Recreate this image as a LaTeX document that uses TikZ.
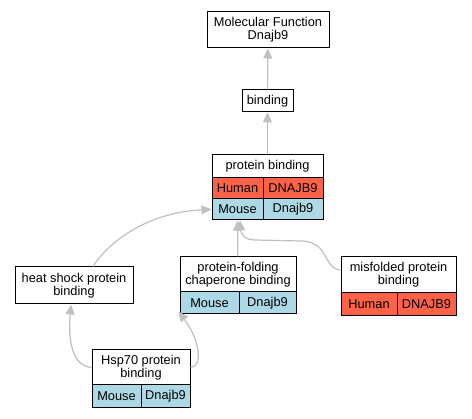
\documentclass[tikz,border=0pt]{standalone}
\usepackage{fontspec}
\setmainfont{Liberation Sans}
\usetikzlibrary{arrows.meta,calc}
\definecolor{humanred}{RGB}{255,99,71}
\definecolor{mouseblue}{RGB}{173,216,230}
\definecolor{edgegray}{RGB}{192,192,192}
\tikzset{
	term/.style={draw=black, line width=1pt, fill=white, inner sep=0pt, align=center, font=\fontsize{12.8}{13}\selectfont},
	human/.style={term, fill=humanred},
	mouse/.style={term, fill=mouseblue},
	wh/.style 2 args={minimum width=#1pt, minimum height=#2pt},
	isa/.style={draw=edgegray, line width=1.2pt, -{Triangle[length=10pt,width=9pt]}},
}

\begin{document}
\begin{tikzpicture}[x=1pt, y=-1pt]
			%%%%% START %%%%%
			
			\useasboundingbox (0,0) rectangle (472,419);
			
			\node[term, wh={122}{36}] (mf) at (268,30) {Molecular Function\\Dnajb9};
			\node[term, wh={51}{22}] (bind) at (267.5,101) {binding};
			
			\node[term, wh={111}{23}] (pbT) at (267.5,166.5) {protein binding};
			\node[human, wh={51}{21}] (pbH1) at (237.5,188.5) {Human};
			\node[human, wh={60}{21}] (pbH2) at (293,188.5) {DNAJB9};
			\node[mouse, wh={51}{21}] (pbM1) at (237.5,209.5) {Mouse};
			\node[mouse, wh={60}{21}] (pbM2) at (293,209.5) {Dnajb9};
			
			\node[term, wh={118}{37}] (hs) at (74,285.5) {heat shock protein\\binding};
			
			\node[term, wh={116}{35}] (pfT) at (238,274.5) {protein-folding\\chaperone binding};
			\node[mouse, wh={59}{22}] (pfM1) at (209.5,303) {Mouse};
			\node[mouse, wh={57}{22}] (pfM2) at (267.5,303) {Dnajb9};
			
			\node[term, wh={115}{36}] (misT) at (398.5,275) {misfolded protein\\binding};
			\node[human, wh={56}{23}] (misH1) at (369,304.5) {Human};
			\node[human, wh={59}{23}] (misH2) at (426.5,304.5) {DNAJB9};
			
			\node[term, wh={98}{35}] (hspT) at (141,367.5) {Hsp70 protein\\binding};
			\node[mouse, wh={49}{23}] (hspM1) at (116.5,396.5) {Mouse};
			\node[mouse, wh={49}{23}] (hspM2) at (165.5,396.5) {Dnajb9};
			
			\draw[isa] (bind) -- (mf);
			\draw[isa] (pbT) -- (bind);
			\draw[isa] (pfT) -- (pbM1);
			\draw[isa] ($(hs.north)+(19,0)$) .. controls (110,240) and (150,212) .. (pbM1.west);
			\draw[isa] ($(misT.west)+(0,-5)$) .. controls (322,268) and (330,241) .. (300,241) -- (255,240) .. controls (245,240) and (241,234) .. ($(pbM1.south)+(2.5,0)$);
			\draw[isa] (hspT.west) .. controls (72,366) and (68,340) .. ($(hs.south)+(-3,0)$);
			\draw[isa] (hspT.east) .. controls (203,367) and (200,340) .. ($(pfM1.south west)+(-1,-3)$);
			
			%%%%% END %%%%%
		\end{tikzpicture}
\end{document}
